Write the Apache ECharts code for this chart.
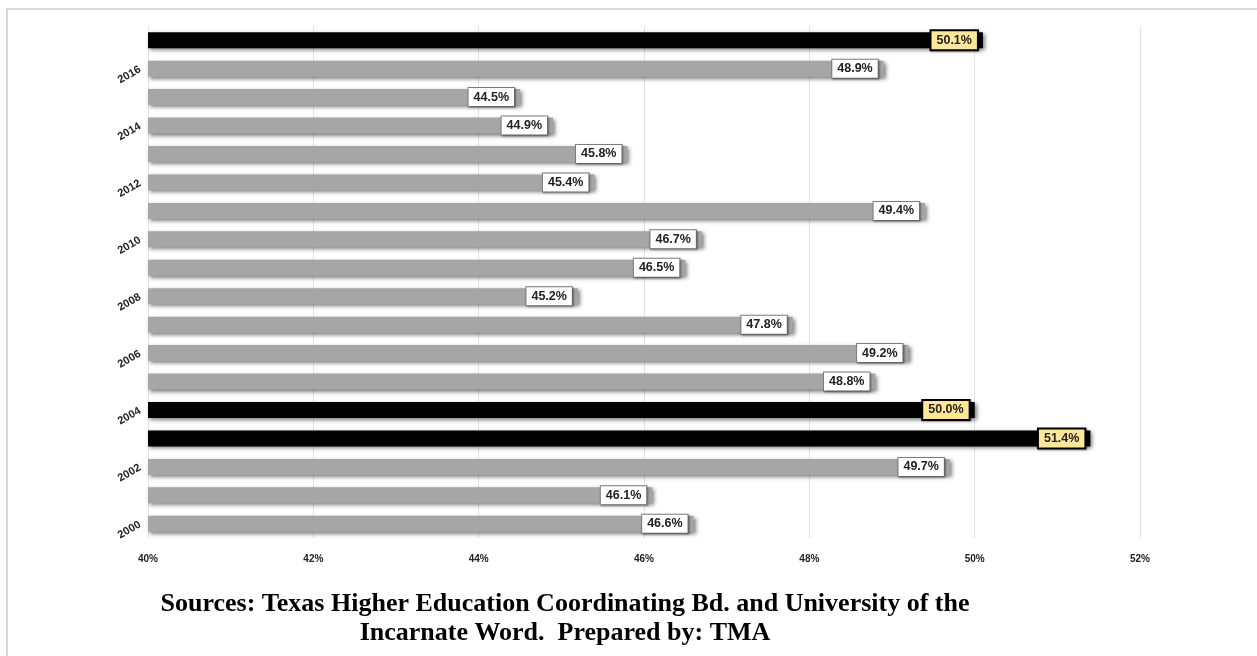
<!DOCTYPE html>
<html>
<head>
<meta charset="utf-8">
<script src="https://cdn.jsdelivr.net/npm/echarts@6/dist/echarts.min.js"></script>
<style>
html,body{margin:0;padding:0;background:#fff;}
#c{width:1257px;height:656px;}
</style>
</head>
<body>
<div id="c"></div>
<script>
var years = ['2000','2001','2002','2003','2004','2005','2006','2007','2008','2009','2010','2011','2012','2013','2014','2015','2016','2017'];
var values = [46.6,46.1,49.7,51.4,50.0,48.8,49.2,47.8,45.2,46.5,46.7,49.4,45.4,45.8,44.9,44.5,48.9,50.1];
var xTicks = [40,42,44,46,48,50,52];
var sourceLines = ['Sources: Texas Higher Education Coordinating Bd. and University of the', 'Incarnate Word.  Prepared by: TMA'];

var chart = echarts.init(document.getElementById('c'));
var data = values.map(function(v){
  var hi = v >= 50;
  return {
    value: v,
    itemStyle: {color: hi ? '#000000' : '#a6a6a6'},
    label: hi ? {backgroundColor:'#ffe699', borderColor:'#000', borderWidth:2} : {backgroundColor:'#fff', borderColor:'#7f7f7f', borderWidth:1}
  };
});
chart.setOption({
  animation:false,
  graphic:[
    {type:'rect', shape:{x:7,y:9,width:1400,height:800}, style:{fill:'none', stroke:'#d9d9d9', lineWidth:2}},
    {type:'text', x:565, y:590, style:{text: sourceLines.join('\n'), font:'bold 26px "Liberation Serif", serif', fill:'#000', textAlign:'center', lineHeight:29}}
  ],
  grid:{left:148, right:117, top:26, bottom:118},
  xAxis:{
    type:'value', min:40, max:52, interval:2,
    axisLine:{show:false}, axisTick:{show:false},
    splitLine:{lineStyle:{color:'#e3e3e3'}},
    axisLabel:{formatter:function(v){return v+'%';}, fontSize:10, fontWeight:'bold', color:'#222', margin:16, fontFamily:'Liberation Sans'}
  },
  yAxis:{
    type:'category', data:years,
    axisLine:{show:false}, axisTick:{show:false},
    axisLabel:{interval:1, rotate:30, fontSize:11, fontWeight:'bold', color:'#222', margin:8, fontFamily:'Liberation Sans'}
  },
  series:[{
    type:'bar', data:data, barWidth:16,
    itemStyle:{shadowBlur:4, shadowOffsetX:2, shadowOffsetY:2, shadowColor:'rgba(0,0,0,0.5)'},
    label:{show:true, position:'insideRight', offset:[-1,0], formatter:function(p){return p.value.toFixed(1)+'%';},
      fontSize:12.5, fontWeight:'bold', color:'#222', fontFamily:'Liberation Sans', padding:[3,5,2,5],
      shadowBlur:2, shadowOffsetX:1, shadowOffsetY:1, shadowColor:'rgba(0,0,0,0.3)'}
  }]
});
</script>
</body>
</html>
